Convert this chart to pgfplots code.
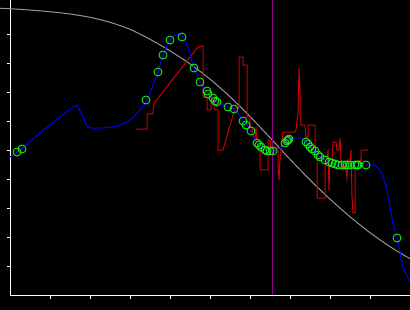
\documentclass[border=0pt]{standalone}
\usepackage{pgfplots}
\pgfplotsset{compat=1.18}
\definecolor{cgrey}{RGB}{150,150,150}
\definecolor{cblue}{RGB}{0,0,255}
\definecolor{cred}{RGB}{205,0,0}
\definecolor{cgreen}{RGB}{20,235,20}
\definecolor{cpurple}{RGB}{140,0,140}
\begin{document}
\begin{tikzpicture}
\fill[black] (-10.3bp,-14.7bp) rectangle (399.7bp,295.3bp);
\path[use as bounding box] (-10.3bp,-14.7bp) rectangle (399.7bp,295.3bp);
\begin{axis}[
  at={(0,0)}, anchor=south west,
  scale only axis, width=400bp, height=295.3bp,
  xmin=0, xmax=10, ymin=0, ymax=10.183,
  axis x line=bottom, axis y line=left,
  axis line style={-, white, line width=1bp},
  xtick={1,...,9}, ytick={1,...,9},
  xticklabel=\empty, yticklabel=\empty,
  tick style={white, line width=1bp},
  major tick length=3.5bp, tick align=outside,
  clip=false,
]
% grey curve
\addplot[cgrey, line width=1bp, smooth] coordinates {
(-0.2575,9.897) (0.2425,9.862) (0.9925,9.779) (1.4925,9.700) (1.9925,9.586)
(2.4925,9.414) (2.9925,9.172) (3.4925,8.828) (3.9925,8.428) (4.4925,7.979)
(4.9925,7.455) (5.4925,6.848) (5.9925,6.166) (6.4925,5.434) (6.9925,4.690)
(7.4925,3.979) (7.9925,3.317) (8.4925,2.710) (8.9925,2.159) (9.4925,1.676)
(9.9925,1.262)};
% purple vertical line
\addplot[cpurple, line width=1bp] coordinates {(6.55,0) (6.55,10.183)};
% red step line
\addplot[cred, line width=1bp] coordinates {
(3.1425,5.734) (3.4175,5.734) (3.4175,6.252) (3.5675,6.252) (3.5675,6.424)
(3.6175,6.666) (4.6925,8.562) (4.7925,8.597) (4.8175,8.597) (4.8175,6.838)
(4.9175,6.838) (4.9175,6.390) (5.0175,6.390) (5.0175,6.734) (5.0925,6.734)
(5.0925,6.390) (5.1925,6.390) (5.1925,5.010) (5.3175,5.010) (5.6175,6.459)
(5.7175,6.459) (5.7175,8.217) (5.8175,8.217) (5.8175,7.941) (5.9175,7.941)
(5.9175,6.148) (5.9925,6.148) (5.9925,5.803) (6.0425,5.803) (6.0675,5.459)
(6.1175,5.459) (6.1425,5.803) (6.1675,5.252) (6.2175,5.010) (6.2425,5.010)
(6.2425,4.321) (6.4425,4.321) (6.4425,5.355) (6.4925,5.355) (6.5175,5.079)
(6.6925,5.079) (6.6925,4.321) (6.7175,3.976) (6.7425,4.666) (6.7675,4.941)
(6.7925,5.286) (6.8175,5.631) (7.1175,5.631) (7.1425,5.700) (7.1925,6.286)
(7.2175,7.838) (7.2425,7.079) (7.2425,6.286) (7.2675,5.872) (7.3675,5.872)
(7.3925,5.459) (7.4425,5.459) (7.4425,5.872) (7.6175,5.872) (7.6175,4.907)
(7.6675,4.907) (7.6675,3.355) (7.8675,3.355) (7.8675,4.562) (7.9175,4.562)
(7.9425,5.010) (7.9675,3.631) (7.9925,4.666) (8.0425,4.666) (8.0675,5.286)
(8.1425,5.286) (8.1675,5.010) (8.2175,5.010) (8.2425,5.424) (8.2675,4.666)
(8.3175,4.321) (8.3675,4.493) (8.4175,4.045) (8.4425,4.666) (8.4925,4.666)
(8.5175,5.010) (8.5425,3.390) (8.5675,2.838) (8.6175,2.838) (8.6175,4.390)
(8.6925,4.390) (8.7425,4.666) (8.7675,4.597) (8.7675,5.010) (8.9425,5.010)};
% blue curve
\addplot[cblue, line width=1bp, smooth] coordinates {
(-0.0075,4.769) (0.2425,5.010) (0.7425,5.597) (1.2425,6.148) (1.6175,6.528)
(1.6925,6.493) (1.8175,6.148) (1.9425,5.803) (2.2425,5.769) (2.6675,5.838)
(2.9925,6.045) (3.2425,6.390) (3.4175,6.734) (3.5675,7.252) (3.6925,7.700)
(3.8175,8.286) (3.9925,8.803) (4.1675,9.010) (4.3175,8.907) (4.4425,8.528)
(4.5925,7.838) (4.7425,7.355) (4.9175,7.010) (5.0675,6.769) (5.1675,6.666)
(5.4425,6.493) (5.5925,6.424) (5.8175,6.045) (5.9175,5.872) (6.0175,5.666)
(6.1675,5.252) (6.2925,5.079) (6.3675,5.010) (6.4425,4.976) (6.5675,4.976)
(6.6925,5.010) (6.7925,5.114) (6.8675,5.252) (6.9675,5.390) (7.1175,5.424)
(7.2925,5.424) (7.3925,5.286) (7.4925,5.114) (7.6175,4.976) (7.7175,4.803)
(7.8675,4.666) (7.9925,4.562) (8.1675,4.493) (8.4175,4.493) (8.6675,4.493)
(8.9175,4.493) (9.0675,4.493) (9.1925,4.390) (9.3175,4.079) (9.4175,3.631)
(9.4925,3.045) (9.5675,2.493) (9.6675,1.976) (9.7425,1.493) (9.8175,0.976)
(9.9925,0.459)};
% green markers
\addplot[only marks, mark=o, mark size=4bp, mark options={cgreen, line width=0.9bp}] coordinates {
(0.1675,4.941) (0.2925,5.045) (3.3925,6.734) (3.6925,7.700) (3.8175,8.286)
(3.9925,8.803) (4.2925,8.907) (4.5925,7.838) (4.7425,7.355) (4.9175,7.045)
(4.9425,6.941) (5.0675,6.803) (5.1175,6.700) (5.1675,6.666) (5.4425,6.493)
(5.5925,6.424) (5.8175,6.010) (5.8925,5.872) (6.0175,5.666) (6.1675,5.252)
(6.2175,5.183) (6.2675,5.114) (6.3675,5.010) (6.4175,4.976) (6.4925,4.976)
(6.5675,4.976) (6.8675,5.252) (6.9175,5.321) (6.9425,5.355) (6.9675,5.390)
(7.3925,5.286) (7.4425,5.217) (7.4925,5.114) (7.5425,5.045) (7.6175,4.976)
(7.6925,4.838) (7.7425,4.769) (7.8675,4.666) (7.9675,4.597) (8.0425,4.562)
(8.1175,4.528) (8.1925,4.493) (8.2925,4.493) (8.3675,4.493) (8.4175,4.493)
(8.4925,4.493) (8.6175,4.493) (8.6675,4.493) (8.6925,4.493) (8.8925,4.493)
(9.6675,1.976)};
\end{axis}
\end{tikzpicture}
\end{document}
